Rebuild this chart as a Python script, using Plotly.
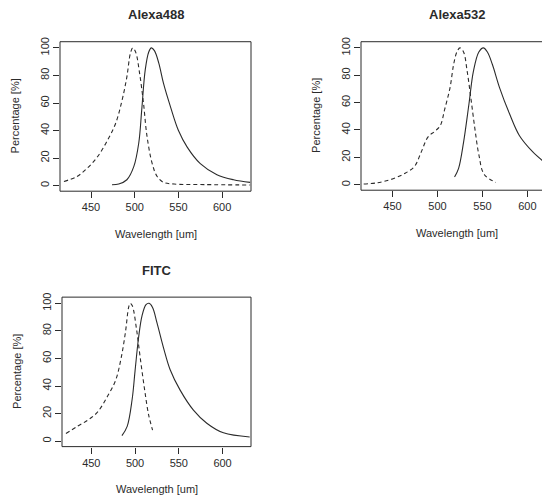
import plotly.graph_objects as go

# Alexa488 excitation (dashed) / emission (solid)
a488_ex_wl = [419, 434, 445, 457, 468, 478, 485.5, 491, 495, 497.7, 501, 505.7, 510, 514, 520, 525.6, 533, 545, 580, 632]
a488_ex_pct = [3.1, 6.7, 12.3, 20.7, 32, 45, 62, 79, 96, 100, 97, 81, 60, 36, 16, 6.7, 2.4, 1.2, 0.8, 0.5]
a488_em_wl = [474, 481.7, 491, 499, 504.6, 508, 512, 516, 519, 522.5, 527.5, 533, 541, 550, 560, 575, 594, 613, 632]
a488_em_pct = [0.7, 1.2, 4.3, 14, 31, 55, 84, 97, 100, 98, 89, 74, 57, 40, 28, 16, 8, 4.3, 2.4]

# Alexa532
a532_ex_wl = [418, 433, 448, 463, 474.5, 482, 489.6, 497, 503, 508, 514, 518, 521.6, 525, 529, 533, 537, 541.6, 546, 552, 565]
a532_ex_pct = [0.5, 1.4, 3.8, 8, 13.4, 24, 35, 39, 43, 55, 71, 88, 97, 100, 97, 83, 64, 41, 22, 7.5, 1.7]
a532_em_wl = [519, 523.5, 529, 535, 540, 546, 551, 555.5, 561, 569, 580, 591, 606, 621.5, 629, 635]
a532_em_pct = [5.7, 12, 31, 59, 83, 97, 100, 97, 88, 71, 52, 36, 24, 15, 11, 9]

# FITC
fitc_ex_wl = [421, 434, 445.5, 457, 468, 477.7, 484, 489, 493, 494.7, 497, 501.5, 506, 511, 515.5, 520]
fitc_ex_pct = [5.5, 10.7, 15, 21, 32, 44, 60, 79, 98, 100, 98, 82, 60, 37, 19, 8]
fitc_em_wl = [485, 491, 496.6, 500, 504, 508, 512.5, 516, 520, 525, 532.6, 540, 551.5, 566.7, 582, 601, 631]
fitc_em_pct = [4, 10.7, 30, 51, 75, 91, 99, 100, 97, 86, 67.5, 52, 37, 22.5, 13, 6, 3]

x_ticks = [450, 500, 550, 600]
y_ticks = [0, 20, 40, 60, 80, 100]

panels = [
    ("Alexa488", a488_ex_wl, a488_ex_pct, a488_em_wl, a488_em_pct),
    ("Alexa532", a532_ex_wl, a532_ex_pct, a532_em_wl, a532_em_pct),
    ("FITC", fitc_ex_wl, fitc_ex_pct, fitc_em_wl, fitc_em_pct),
]

W, H = 550, 500
OFF = 8  # page body margin shifts the figure by 8px
# plot boxes in screen pixels: left, right, top, bottom
boxes = [(60, 251, 37, 188), (361, 560, 37, 187), (62, 251, 295, 446)]
xranges = [[414.5, 633], [415, 634], [416.5, 632.5]]

INK = "#2b2b2b"
FONT = "Liberation Sans, Arial, sans-serif"


def px_x(v):
    return (v - OFF) / W


def px_y(v):
    return 1 - (v - OFF) / H


fig = go.Figure()
annotations = []
shapes = []

for i, (name, exw, exp_, emw, emp) in enumerate(panels):
    n = "" if i == 0 else str(i + 1)
    l, r, t, b = boxes[i]
    fig.add_trace(go.Scatter(x=exw, y=exp_, mode="lines", line_shape="spline",
                             line=dict(color=INK, width=1.1, dash="4px,3px"),
                             xaxis="x" + n, yaxis="y" + n, showlegend=False))
    fig.add_trace(go.Scatter(x=emw, y=emp, mode="lines", line_shape="spline",
                             line=dict(color=INK, width=1.1),
                             xaxis="x" + n, yaxis="y" + n, showlegend=False))
    fig.update_layout(**{
        "xaxis" + n: dict(domain=[px_x(l), min(px_x(r), 1)], range=xranges[i], anchor="y" + n,
                          tickvals=x_ticks, ticks="outside", ticklen=6,
                          tickcolor=INK, showgrid=False, zeroline=False, showline=False,
                          tickfont=dict(size=11, color=INK, family=FONT)),
        "yaxis" + n: dict(domain=[px_y(b), px_y(t)], range=[-4, 104.5], anchor="x" + n,
                          tickvals=y_ticks, ticks="outside", ticklen=6,
                          tickcolor=INK, showgrid=False, zeroline=False, showline=False,
                          tickangle=-90,
                          tickfont=dict(size=11, color=INK, family=FONT)),
    })
    shapes.append(dict(type="rect", xref="paper", yref="paper",
                       x0=px_x(l), x1=px_x(r), y0=px_y(b), y1=px_y(t),
                       line=dict(color=INK, width=1)))
    cx = px_x((l + min(r, 552)) / 2)
    annotations.append(dict(text="<b>" + name + "</b>", x=cx, y=px_y(t - 27),
                            xref="paper", yref="paper", showarrow=False,
                            xanchor="center", yanchor="middle",
                            font=dict(size=13, color=INK, family=FONT)))
    annotations.append(dict(text="Wavelength [um]", x=cx, y=px_y(b + 43),
                            xref="paper", yref="paper", showarrow=False,
                            xanchor="center", yanchor="middle",
                            font=dict(size=11, color=INK, family=FONT)))
    annotations.append(dict(text="Percentage [%]", x=px_x(l - 45), y=px_y((t + b) / 2),
                            xref="paper", yref="paper", showarrow=False, textangle=-90,
                            xanchor="center", yanchor="middle",
                            font=dict(size=11, color=INK, family=FONT)))

fig.update_layout(width=W, height=H, margin=dict(l=0, r=0, t=0, b=0),
                  plot_bgcolor="white", paper_bgcolor="white",
                  annotations=annotations, shapes=shapes)

fig.write_html("out.html")
